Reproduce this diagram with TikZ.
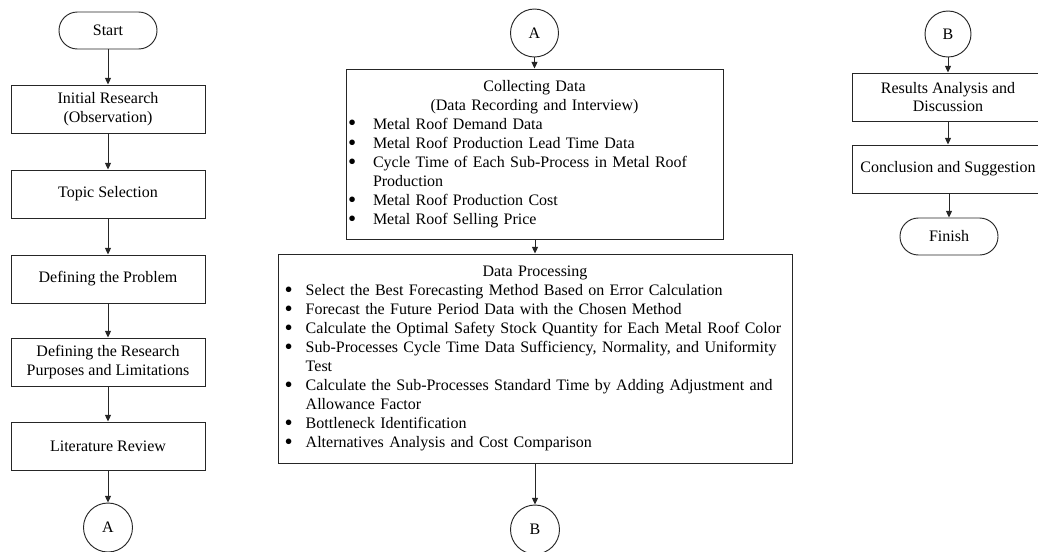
\documentclass[tikz,border=0pt]{standalone}
\usepackage{fontspec}
\setmainfont{Liberation Serif}
\usetikzlibrary{arrows.meta}
\newcommand{\bigbullet}{\raisebox{-1.3pt}{\scalebox{1.45}{\textbullet}}}
\newcommand{\hitem}[3]{\par\hangindent=#2\hangafter=1\noindent\hspace*{#1}\makebox[\dimexpr#2-#1\relax][l]{\bigbullet}#3\par}
\begin{document}
\begin{tikzpicture}[x=0.75pt,y=-0.75pt,
  every node/.style={font=\fontsize{12}{13.8}\selectfont},
  line/.style={line width=0.7pt, draw=black!85},
  box/.style={line, draw, align=center, inner sep=0pt, minimum width=145.5pt, minimum height=36pt},
  term/.style={line, draw, rounded corners=13.8pt, minimum width=73.5pt, minimum height=27.75pt, inner sep=0pt},
  conn/.style={line, draw, circle, minimum size=36.75pt, inner sep=0pt},
  listbox/.style={line, draw, inner sep=0pt, align=left, font=\fontsize{12}{14.3}\selectfont},
  arr/.style={line, -{Triangle[length=5pt,width=4.5pt]}}]
\clip (0,0) rectangle (1038,551);

% left column
\node[term] (start) at (108,30.5) {Start};
\node[box] (init) at (108,109) {Initial Research\\(Observation)};
\node[box] (topic) at (108,194) {Topic Selection};
\node[box] (problem) at (108,279) {Defining the Problem};
\node[box] (purpose) at (108,362) {Defining the Research\\Purposes and Limitations};
\node[box] (lit) at (108,446) {Literature Review};
\node[conn] (A1) at (108,527.5) {A};

% middle column
\node[conn, minimum size=36pt] (A2) at (534.5,33) {A};
\node[listbox, text width=282.75pt, minimum height=127.5pt] (collect) at (534.5,154) {%
  \parindent=0pt
  {\centering Collecting Data\\(Data Recording and Interview)\par}
  \hitem{1.5pt}{20.25pt}{Metal Roof Demand Data}
  \hitem{1.5pt}{20.25pt}{Metal Roof Production Lead Time Data}
  \hitem{1.5pt}{20.25pt}{Cycle Time of Each Sub-Process in Metal Roof\newline Production}
  \hitem{1.5pt}{20.25pt}{Metal Roof Production Cost}
  \hitem{1.5pt}{20.25pt}{Metal Roof Selling Price}};
\node[listbox, text width=385.5pt, minimum height=156.75pt] (proc) at (535,358.5) {%
  \parindent=0pt
  {\centering Data Processing\par}
  \hitem{5pt}{20.8pt}{Select the Best Forecasting Method Based on Error Calculation}
  \hitem{5pt}{20.8pt}{Forecast the Future Period Data with the Chosen Method}
  \hitem{5pt}{20.8pt}{Calculate the Optimal Safety Stock Quantity for Each Metal Roof Color}
  \hitem{5pt}{20.8pt}{Sub-Processes Cycle Time Data Sufficiency, Normality, and Uniformity\newline Test}
  \hitem{5pt}{20.8pt}{Calculate the Sub-Processes Standard Time by Adding Adjustment and\newline Allowance Factor}
  \hitem{5pt}{20.8pt}{Bottleneck Identification}
  \hitem{5pt}{20.8pt}{Alternatives Analysis and Cost Comparison}};
\node[conn] (B2) at (535,529.5) {B};

% right column
\node[conn, minimum size=34.5pt] (B3) at (948,34) {B};
\node[box, minimum width=144pt] (results) at (948,97) {Results Analysis and\\Discussion};
\node[box, minimum width=144pt] (concl) at (948,169) {Conclusion and Suggestion};
\node[term] (finish) at (949,236.5) {Finish};

% connectors
\draw[arr] (start) -- (init);
\draw[arr] (init) -- (topic);
\draw[arr] (topic) -- (problem);
\draw[arr] (problem) -- (purpose);
\draw[arr] (purpose) -- (lit);
\draw[arr] (lit) -- (A1);
\draw[arr] (A2) -- (collect);
\draw[arr] (collect.south -| proc.north) -- (proc.north);
\draw[arr] (proc) -- (B2);
\draw[arr] (B3) -- (results);
\draw[arr] (results) -- (concl);
\draw[arr] (concl.south -| finish.north) -- (finish);
\end{tikzpicture}
\end{document}
